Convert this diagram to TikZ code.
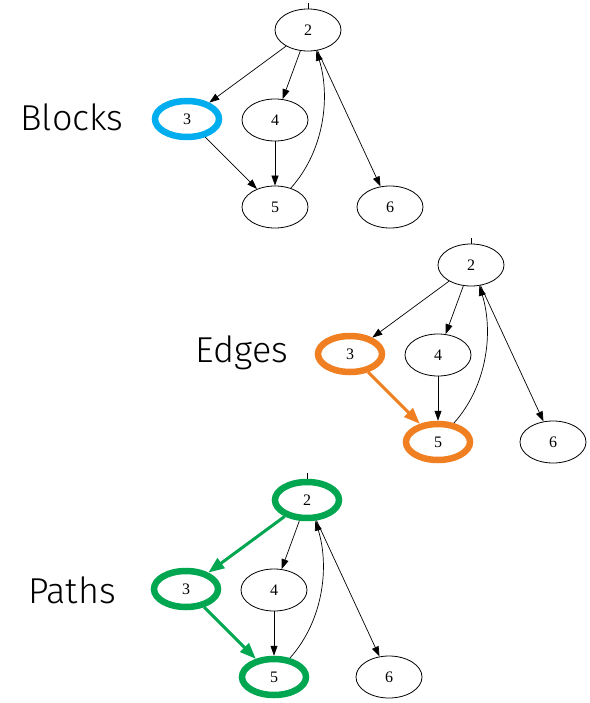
\documentclass[tikz,border=0pt]{standalone}
\usepackage{fontspec}
\setmainfont{Liberation Serif}
\newfontfamily\labelfont{Fira Sans Light}
\usetikzlibrary{
    shapes.geometric,
    arrows.meta,
    positioning
}
\definecolor{blockblue}{HTML}{00AEEF}
\definecolor{edgeorange}{HTML}{F07F22}
\definecolor{pathgreen}{HTML}{00A650}

\begin{document}
\begin{tikzpicture}[
        x=1pt, y=1pt,
        vertex/.style={ellipse, draw, line width=0.8pt, minimum width=66pt, minimum height=42pt, inner sep=0pt, font=\fontsize{16}{16}\selectfont},
        marked/.style={vertex, draw=#1, line width=6.5pt, minimum width=64pt, minimum height=36pt},
        edge/.style={-{Triangle[length=10pt, width=7pt]}, line width=0.7pt},
        hot/.style={-{Triangle[length=16pt, width=12pt]}, line width=3pt, draw=#1, #1},
        caption/.style={font=\labelfont\fontsize{36}{36}\selectfont}
    ]
        \useasboundingbox (0,0) rectangle (589,-703);

        % blocks
        \node[caption] (blocks) at (72,-117) {Blocks};
        \node[vertex] (b2) at (308,-30) {2};
        \node[marked=blockblue] (b3) at (187,-119) {3};
        \node[vertex] (b4) at (275,-120) {4};
        \node[vertex] (b5) at (275,-207) {5};
        \node[vertex] (b6) at (390,-207) {6};
        \draw[line width=0.7pt] (b2.north) -- ++(0,6);
        \draw[edge] (b2) -- (b3);
        \draw[edge] (b2) -- (b4);
        \draw[edge] (b2) -- (b6);
        \draw[edge] (b3) -- (b5);
        \draw[edge] (b4) -- (b5);
        \draw[edge] (b5.50) .. controls +(34,38) and +(14,-45) .. (b2.-68);

        % edges
        \node[caption] (edges) at (242,-353) {Edges};
        \node[vertex] (e2) at (471,-265) {2};
        \node[marked=edgeorange] (e3) at (350,-354) {3};
        \node[vertex] (e4) at (438,-355) {4};
        \node[marked=edgeorange] (e5) at (438,-442) {5};
        \node[vertex] (e6) at (553,-442) {6};
        \draw[line width=0.7pt] (e2.north) -- ++(0,6);
        \draw[edge] (e2) -- (e3);
        \draw[edge] (e2) -- (e4);
        \draw[edge] (e2) -- (e6);
        \draw[hot=edgeorange] (e3) -- (e5);
        \draw[edge] (e4) -- (e5);
        \draw[edge] (e5.50) .. controls +(34,38) and +(14,-45) .. (e2.-68);

        % paths
        \node[caption] (paths) at (72,-590) {Paths};
        \node[marked=pathgreen] (p2) at (307,-500) {2};
        \node[marked=pathgreen] (p3) at (186,-589) {3};
        \node[vertex] (p4) at (274,-590) {4};
        \node[marked=pathgreen] (p5) at (274,-677) {5};
        \node[vertex] (p6) at (389,-677) {6};
        \draw[line width=0.7pt] (p2.north) -- ++(0,6);
        \draw[hot=pathgreen] (p2) -- (p3);
        \draw[edge] (p2) -- (p4);
        \draw[edge] (p2) -- (p6);
        \draw[hot=pathgreen] (p3) -- (p5);
        \draw[edge] (p4) -- (p5);
        \draw[edge] (p5.50) .. controls +(34,38) and +(14,-45) .. (p2.-68);
    \end{tikzpicture}
\end{document}
